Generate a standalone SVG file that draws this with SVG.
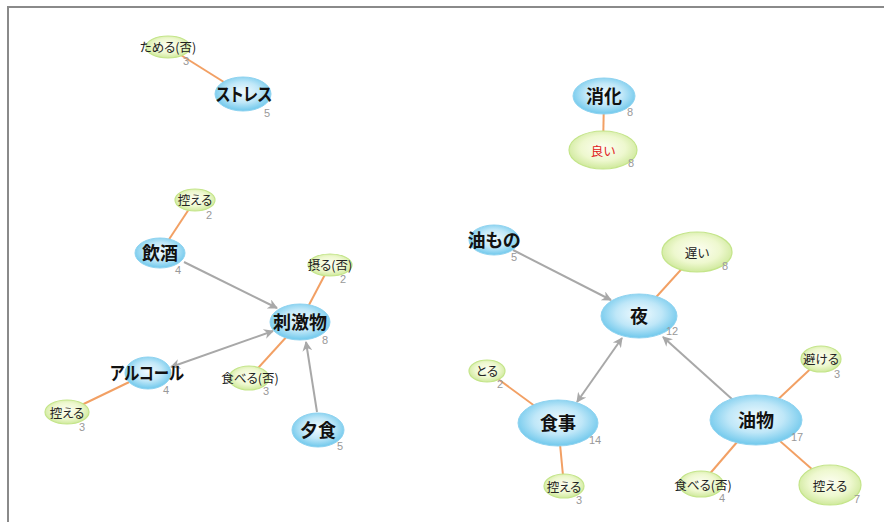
<svg xmlns="http://www.w3.org/2000/svg" width="884" height="522" viewBox="0 0 884 522">
<defs>
<radialGradient id="gb" cx="50%" cy="45%" r="55%">
<stop offset="0" stop-color="#f2fbff"/>
<stop offset="0.55" stop-color="#bfe7f8"/>
<stop offset="1" stop-color="#6fc8ec"/>
</radialGradient>
<radialGradient id="gg" cx="50%" cy="45%" r="55%">
<stop offset="0" stop-color="#fdfef2"/>
<stop offset="0.6" stop-color="#eef8cf"/>
<stop offset="1" stop-color="#cfe99c"/>
</radialGradient>
<marker id="ah" viewBox="0 0 10 10" refX="9" refY="5" markerUnits="userSpaceOnUse" markerWidth="12" markerHeight="10" orient="auto-start-reverse">
<path d="M0,0 L10,5 L0,10 L3,5 z" fill="#a8a8a8"/>
</marker>
</defs>
<style>
.b{fill:url(#gb);stroke:#8fd3f0;stroke-width:1}
.g{fill:url(#gg);stroke:#c4e58a;stroke-width:1.2}
.L{font-family:"Noto Sans CJK JP","Noto Sans",sans-serif;font-size:18px;font-weight:700;fill:#111;text-anchor:middle;dominant-baseline:central;font-feature-settings:"palt"}
.s{font-family:"Noto Sans CJK JP","Noto Sans",sans-serif;font-size:12.5px;fill:#222;text-anchor:middle;dominant-baseline:central;font-feature-settings:"palt"}
.c{font-family:"Liberation Sans",Arial,sans-serif;font-size:11px;fill:#999}
.o{stroke:#f2a064;stroke-width:2;fill:none}
.a{stroke:#a8a8a8;stroke-width:2;fill:none;marker-end:url(#ah)}
.d{stroke:#a8a8a8;stroke-width:2;fill:none;marker-end:url(#ah);marker-start:url(#ah)}
</style>
<rect x="8" y="7" width="890" height="530" fill="#fff" stroke="#8a8a8a" stroke-width="2"/>
<g id="connectors">
<line class="o" x1="168" y1="47" x2="243" y2="94"/>
<line class="o" x1="604" y1="96" x2="603" y2="150"/>
<line class="o" x1="195" y1="200" x2="160" y2="253"/>
<line class="o" x1="330" y1="265" x2="300" y2="322"/>
<line class="o" x1="249" y1="378" x2="300" y2="322"/>
<line class="o" x1="67" y1="412" x2="148" y2="373"/>
<line class="o" x1="697" y1="252" x2="639" y2="316"/>
<line class="o" x1="487" y1="371" x2="558" y2="423"/>
<line class="o" x1="564" y1="486" x2="558" y2="423"/>
<line class="o" x1="821" y1="359" x2="756" y2="420"/>
<line class="o" x1="701" y1="484" x2="756" y2="420"/>
<line class="o" x1="830" y1="485" x2="756" y2="420"/>
<line class="a" x1="184" y1="262" x2="277" y2="308"/>
<line class="d" x1="171" y1="367" x2="273" y2="331"/>
<line class="a" x1="317" y1="412" x2="306" y2="342"/>
<line class="a" x1="513" y1="250" x2="611" y2="300"/>
<line class="d" x1="577" y1="402" x2="622" y2="338"/>
<line class="a" x1="733" y1="400" x2="663" y2="337"/>
</g>
<g id="n-tameru"><ellipse class="g" cx="168" cy="47" rx="22" ry="11"/><text class="s" x="168" y="46">ためる(否)</text><text class="c" x="183" y="65">3</text></g>
<g id="n-stress"><ellipse class="b" cx="243" cy="94" rx="28" ry="17"/><text class="L" x="244" y="93" textLength="56" lengthAdjust="spacingAndGlyphs">ストレス</text><text class="c" x="264" y="117">5</text></g>
<g id="n-shouka"><ellipse class="b" cx="604" cy="96" rx="31" ry="18"/><text class="L" x="604" y="95">消化</text><text class="c" x="627" y="116">8</text></g>
<g id="n-yoi"><ellipse class="g" cx="603" cy="150" rx="34" ry="19"/><text class="s" x="603" y="150" style="fill:#e02020">良い</text><text class="c" x="628" y="167">8</text></g>
<g id="n-insyu"><ellipse class="b" cx="160" cy="253" rx="25" ry="15"/><text class="L" x="160" y="252">飲酒</text><text class="c" x="175" y="274">4</text></g>
<g id="n-hikaeru1"><ellipse class="g" cx="195" cy="200" rx="20" ry="11"/><text class="s" x="195" y="199">控える</text><text class="c" x="206" y="219">2</text></g>
<g id="n-toru-hi"><ellipse class="g" cx="330" cy="265" rx="22" ry="11"/><text class="s" x="330" y="264">摂る(否)</text><text class="c" x="340" y="283">2</text></g>
<g id="n-shigeki"><ellipse class="b" cx="300" cy="322" rx="30" ry="18"/><text class="L" x="300" y="321">刺激物</text><text class="c" x="322" y="344">8</text></g>
<g id="n-alcohol"><ellipse class="b" cx="148" cy="373" rx="23" ry="16"/><text class="L" x="147" y="372" textLength="74" lengthAdjust="spacingAndGlyphs">アルコール</text><text class="c" x="163" y="394">4</text></g>
<g id="n-hikaeru2"><ellipse class="g" cx="67" cy="412" rx="22" ry="12"/><text class="s" x="67" y="412">控える</text><text class="c" x="79" y="431">3</text></g>
<g id="n-taberu1"><ellipse class="g" cx="249" cy="378" rx="20" ry="12"/><text class="s" x="250" y="377">食べる(否)</text><text class="c" x="263" y="395">3</text></g>
<g id="n-yuushoku"><ellipse class="b" cx="318" cy="430" rx="26" ry="17"/><text class="L" x="318" y="429">夕食</text><text class="c" x="337" y="450">5</text></g>
<g id="n-aburamono"><ellipse class="b" cx="494" cy="240" rx="25" ry="15"/><text class="L" x="494" y="239">油もの</text><text class="c" x="511" y="261">5</text></g>
<g id="n-yoru"><ellipse class="b" cx="639" cy="316" rx="38" ry="22"/><text class="L" x="639" y="315">夜</text><text class="c" x="666" y="335">12</text></g>
<g id="n-osoi"><ellipse class="g" cx="697" cy="252" rx="35" ry="20"/><text class="s" x="697" y="252">遅い</text><text class="c" x="722" y="270">8</text></g>
<g id="n-shokuji"><ellipse class="b" cx="558" cy="423" rx="40" ry="23"/><text class="L" x="558" y="422">食事</text><text class="c" x="589" y="444">14</text></g>
<g id="n-toru"><ellipse class="g" cx="487" cy="371" rx="18" ry="11"/><text class="s" x="487" y="370">とる</text><text class="c" x="497" y="388">2</text></g>
<g id="n-hikaeru3"><ellipse class="g" cx="564" cy="486" rx="20" ry="12"/><text class="s" x="564" y="486">控える</text><text class="c" x="576" y="504">3</text></g>
<g id="n-yubutsu"><ellipse class="b" cx="756" cy="420" rx="46" ry="25"/><text class="L" x="756" y="419">油物</text><text class="c" x="791" y="441">17</text></g>
<g id="n-sakeru"><ellipse class="g" cx="821" cy="359" rx="20" ry="13"/><text class="s" x="821" y="358">避ける</text><text class="c" x="834" y="378">3</text></g>
<g id="n-taberu2"><ellipse class="g" cx="701" cy="484" rx="22" ry="13"/><text class="s" x="703" y="484">食べる(否)</text><text class="c" x="719" y="502">4</text></g>
<g id="n-hikaeru4"><ellipse class="g" cx="830" cy="485" rx="31" ry="20"/><text class="s" x="830" y="485">控える</text><text class="c" x="854" y="503">7</text></g>
</svg>
